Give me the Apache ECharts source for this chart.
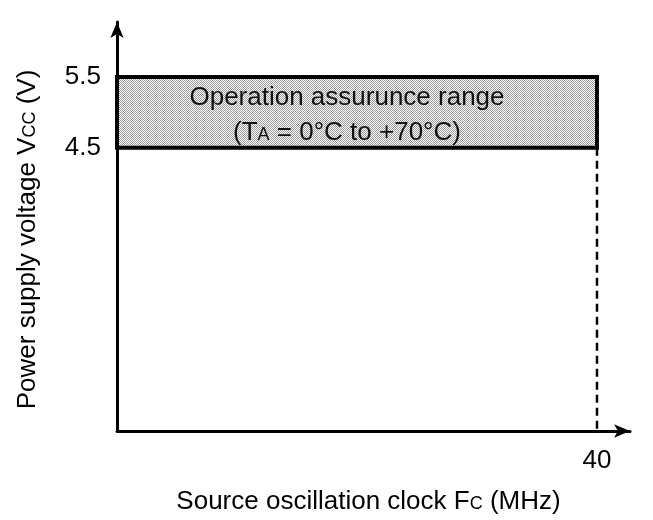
<!DOCTYPE html>
<html><head><meta charset="utf-8">
<script src="https://cdn.jsdelivr.net/npm/echarts@6/dist/echarts.min.js"></script>
<style>html,body{margin:0;padding:0;background:#fff}#c{width:653px;height:520px}</style>
</head><body><div id="c"></div>
<script>
// Data
var freqRange = [0, 40];          // MHz
var voltRange = [4.5, 5.5];       // V
var xTickLabels = [40];
var yTickLabels = [4.5, 5.5];
var areaLine1 = 'Operation assurunce range';
var areaLine2 = '(T{s|A} = 0°C to +70°C)';

function makePattern() {
  var c = document.createElement('canvas');
  c.width = 2; c.height = 2;
  var g = c.getContext('2d');
  g.fillStyle = '#ffffff'; g.fillRect(0, 0, 2, 2);
  g.fillStyle = '#9a9a9a'; g.fillRect(0, 0, 1, 1); g.fillRect(1, 1, 1, 1);
  return c;
}

var chart = echarts.init(document.getElementById('c'));
var font = 'Liberation Sans, Arial, sans-serif';
chart.setOption({
  animation: false,
  grid: { left: 117, right: 23, top: 22, bottom: 88 },
  xAxis: {
    type: 'value', min: 0, max: 42.75,
    axisLine: { lineStyle: { color: '#000', width: 3 }, symbol: ['none', 'arrow'], symbolSize: [10, 16] },
    axisTick: { show: false },
    splitLine: { show: false },
    axisLabel: { customValues: xTickLabels, color: '#000', fontSize: 26, fontFamily: font, margin: 17 },
    name: 'Source oscillation clock F{s|C} (MHz)',
    nameLocation: 'middle', nameGap: 58,
    nameTextStyle: { color: '#000', fontSize: 26, fontFamily: font, padding: [0, 10, 0, 0],
      rich: { s: { fontSize: 18, fontFamily: font, color: '#000', verticalAlign: 'bottom', padding: [0, 0, 2, 0] } } }
  },
  yAxis: {
    type: 'value', min: 0.5, max: 6.275,
    axisLine: { lineStyle: { color: '#000', width: 3 }, symbol: ['none', 'arrow'], symbolSize: [10, 16] },
    axisTick: { show: false },
    splitLine: { show: false },
    axisLabel: { customValues: yTickLabels, color: '#000', fontSize: 26, fontFamily: font, margin: 16,
      padding: [6, 0, 0, 0],
      formatter: function (v) { return v.toFixed(1); } },
    name: 'Power supply voltage V{s|CC} (V)',
    nameLocation: 'middle', nameGap: 76, nameRotate: 90,
    nameTextStyle: { color: '#000', fontSize: 26, fontFamily: font, padding: [0, 26, 0, 0],
      rich: { s: { fontSize: 18, fontFamily: font, color: '#000', verticalAlign: 'bottom', padding: [0, 0, 2, 0] } } }
  },
  series: [{
    type: 'line',
    data: [[freqRange[1], voltRange[0]], [freqRange[1], 0.5]],
    symbol: 'none',
    lineStyle: { color: '#000', width: 2.5, type: [8, 5] },
    markArea: {
      silent: true,
      itemStyle: { color: { image: makePattern(), repeat: 'repeat' }, borderColor: '#000', borderWidth: 4 },
      label: {
        show: true, position: 'inside', offset: [-10, 3], color: '#111', fontSize: 26, fontFamily: font, lineHeight: 35,
        formatter: areaLine1 + '\n' + areaLine2,
        rich: { s: { fontSize: 18, color: '#111', fontFamily: font, verticalAlign: 'bottom', lineHeight: 18, padding: [0, 0, 6, 0] } }
      },
      data: [[{ xAxis: freqRange[0], yAxis: voltRange[1] }, { xAxis: freqRange[1], yAxis: voltRange[0] }]]
    }
  }]
});
</script></body></html>
